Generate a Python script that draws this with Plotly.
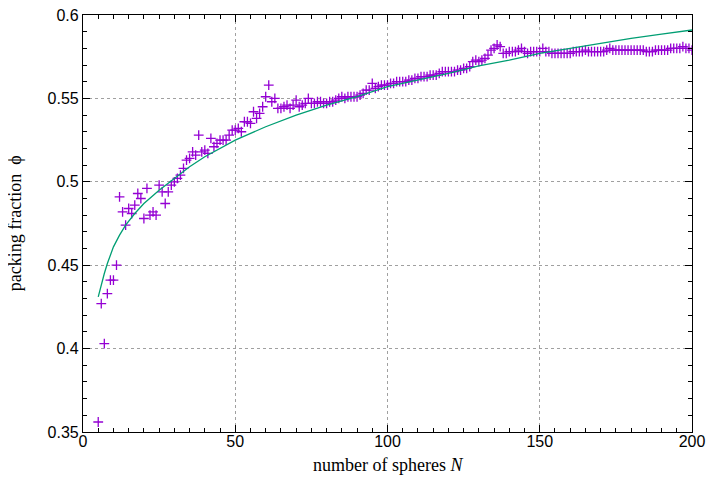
import plotly.graph_objects as go

# measured packing fraction for N = 5 .. 200
n_spheres = list(range(5, 201))
phi_values = [
    0.356, 0.427, 0.403, 0.433, 0.441, 0.441, 0.450, 0.491, 0.482, 0.474,  # 5-14
    0.484, 0.481, 0.486, 0.493, 0.490, 0.478, 0.496, 0.480, 0.482, 0.480,  # 15-24
    0.498, 0.494, 0.487, 0.494, 0.498, 0.500, 0.502, 0.504, 0.508, 0.513,  # 25-34
    0.514, 0.518, 0.516, 0.528, 0.518, 0.519, 0.517, 0.526, 0.521, 0.523,  # 35-44
    0.525, 0.525, 0.525, 0.528, 0.531, 0.531, 0.532, 0.530, 0.536, 0.536,  # 45-54
    0.535, 0.542, 0.538, 0.541, 0.545, 0.551, 0.558, 0.548, 0.550, 0.544,  # 55-64
    0.544, 0.545, 0.546, 0.544, 0.546, 0.549, 0.545, 0.546, 0.547, 0.550,  # 65-74
    0.547, 0.547, 0.548, 0.548, 0.547, 0.547, 0.548, 0.548, 0.549, 0.550,  # 75-84
    0.551, 0.550, 0.551, 0.551, 0.551, 0.551, 0.552, 0.553, 0.555, 0.555,  # 85-94
    0.559, 0.556, 0.557, 0.558, 0.558, 0.558, 0.559, 0.559, 0.560, 0.560,  # 95-104
    0.560, 0.560, 0.561, 0.561, 0.562, 0.562, 0.563, 0.563, 0.563, 0.564,  # 105-114
    0.564, 0.564, 0.565, 0.566, 0.566, 0.566, 0.566, 0.566, 0.567, 0.567,  # 115-124
    0.568, 0.568, 0.569, 0.572, 0.573, 0.572, 0.573, 0.574, 0.576, 0.579,  # 125-134
    0.580, 0.582, 0.581, 0.577, 0.577, 0.578, 0.578, 0.578, 0.579, 0.580,  # 135-144
    0.578, 0.577, 0.578, 0.578, 0.578, 0.578, 0.580, 0.578, 0.578, 0.577,  # 145-154
    0.577, 0.577, 0.577, 0.577, 0.577, 0.577, 0.578, 0.578, 0.578, 0.578,  # 155-164
    0.579, 0.578, 0.578, 0.578, 0.578, 0.578, 0.578, 0.579, 0.580, 0.579,  # 165-174
    0.579, 0.579, 0.579, 0.579, 0.579, 0.579, 0.579, 0.579, 0.579, 0.579,  # 175-184
    0.578, 0.578, 0.578, 0.579, 0.579, 0.579, 0.579, 0.579, 0.580, 0.580,  # 185-194
    0.580, 0.580, 0.581, 0.580, 0.580, 0.579,                              # 195-200
]

# fitted curve
fit_n = [5, 6, 7, 8, 10, 12, 14, 17, 20, 25, 30, 35, 40, 50, 60, 70, 80, 90,
         100, 110, 120, 130, 140, 150, 160, 170, 180, 190, 200]
fit_phi = [0.431, 0.439, 0.445, 0.451, 0.461, 0.468, 0.474, 0.481, 0.487, 0.495,
           0.502, 0.509, 0.515, 0.525, 0.533, 0.540, 0.546, 0.551, 0.557, 0.561,
           0.565, 0.5695, 0.573, 0.577, 0.580, 0.583, 0.586, 0.5885, 0.591]

x_ticks = [0, 50, 100, 150, 200]
y_ticks = [0.35, 0.4, 0.45, 0.5, 0.55, 0.6]
y_tick_text = ["0.35", "0.4", "0.45", "0.5", "0.55", "0.6"]

fig = go.Figure()
fig.add_trace(go.Scatter(
    x=n_spheres, y=phi_values, mode="markers",
    marker=dict(symbol="cross-thin", size=7, line=dict(color="#9400D3", width=1.3)),
    showlegend=False,
))
fig.add_trace(go.Scatter(
    x=fit_n, y=fit_phi, mode="lines", line=dict(color="#009E73", width=1.3),
    showlegend=False,
))

axis_common = dict(
    showline=True, linecolor="black", linewidth=1.2, mirror="ticks",
    ticks="inside", ticklen=7, tickcolor="black",
    showgrid=True, gridcolor="#a0a0a0", griddash="dot", gridwidth=1,
    zeroline=False, automargin=False, ticklabeloverflow="allow",
    tickfont=dict(family="Liberation Sans, Arial, sans-serif", size=16, color="black"),
)

fig.update_xaxes(
    range=[0, 200], tickvals=x_ticks, ticklabelstandoff=-5,
    minor=dict(dtick=5, ticklen=4, ticks="inside", tickcolor="black", showgrid=False),
    **axis_common,
)
fig.update_yaxes(
    range=[0.35, 0.6], tickvals=y_ticks, ticktext=y_tick_text,
    minor=dict(dtick=0.01, ticklen=4, ticks="inside", tickcolor="black", showgrid=False),
    **axis_common,
)

title_font = dict(family="Liberation Serif, Times New Roman, serif", size=18, color="black")
fig.add_annotation(
    text="number of spheres <i>N</i>", xref="paper", yref="paper",
    x=0.5, y=-0.08, xanchor="center", yanchor="middle", showarrow=False, font=title_font,
)
fig.add_annotation(
    text="packing fraction  ϕ", xref="paper", yref="paper",
    x=-0.112, y=0.5, xanchor="center", yanchor="middle", textangle=-90,
    showarrow=False, font=title_font,
)

# page body has an 8px margin, so the figure is sized to fill the 720x480 window
fig.update_layout(
    width=712, height=472,
    margin=dict(l=75, r=28, t=7, b=48),
    plot_bgcolor="white", paper_bgcolor="white",
)

fig.write_html("out.html")
